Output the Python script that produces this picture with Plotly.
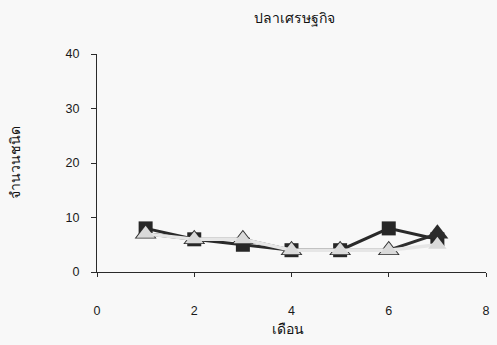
import plotly.graph_objects as go

# Monthly number of economic fish species
months = [1, 2, 3, 4, 5, 6, 7]
species_square = [8, 6, 5, 4, 4, 8, 6]
species_dark_tri = [7, 6, 6, 4, 4, 4, 7]
species_light_tri = [7, 6, 6, 4, 4, 4, 5]

x_ticks = [0, 2, 4, 6, 8]
y_ticks = [0, 10, 20, 30, 40]

chart_title = "ปลาเศรษฐกิจ"
x_title = "เดือน"
y_title = "จำนวนชนิด"

W, H = 497, 345
M_L, M_R, M_T, M_B = 97, 7, 54, 73
PLOT_W = W - M_L - M_R
PLOT_H = H - M_T - M_B


def px_x(px):
    return (px - M_L) / PLOT_W


def px_y(py):
    return (H - M_B - py) / PLOT_H


FONT = "Liberation Sans, Arial, sans-serif"

fig = go.Figure()

fig.add_trace(go.Scatter(
    x=months, y=species_square, mode="lines+markers",
    line=dict(color="#2a2a2a", width=3),
    marker=dict(symbol="square", size=14, color="#272727"),
    showlegend=False,
))
fig.add_trace(go.Scatter(
    x=months, y=species_dark_tri, mode="lines+markers",
    line=dict(color="#2e2e2e", width=3),
    marker=dict(symbol="triangle-up", size=19, color="#2c2c2c"),
    showlegend=False,
))
fig.add_trace(go.Scatter(
    x=months, y=species_light_tri, mode="lines+markers",
    line=dict(color="#e6e6e6", width=3.4),
    marker=dict(symbol="triangle-up", size=16, color="#dadada"),
    showlegend=False,
))

fig.update_layout(
    width=W, height=H,
    margin=dict(l=M_L, r=M_R, t=M_T, b=M_B, pad=0),
    paper_bgcolor="#f8f8f8",
    plot_bgcolor="#f8f8f8",
    font=dict(family=FONT, size=12, color="#1a1a1a"),
    showlegend=False,
    xaxis=dict(
        range=[0, 8], tickvals=x_ticks, showgrid=False, zeroline=False,
        showline=True, linecolor="#2a2a2a", linewidth=1,
        ticks="outside", ticklen=4, tickcolor="#2a2a2a",
        ticklabelstandoff=23,
        tickfont=dict(family=FONT, size=12.5, color="#1a1a1a"),
    ),
    yaxis=dict(
        range=[0, 40], tickvals=y_ticks, showgrid=False, zeroline=False,
        showline=True, linecolor="#2a2a2a", linewidth=1,
        ticks="outside", ticklen=5, tickcolor="#2a2a2a",
        ticklabelstandoff=9,
        tickfont=dict(family=FONT, size=12.5, color="#1a1a1a"),
    ),
    annotations=[
        dict(text=chart_title, xref="paper", yref="paper",
             x=px_x(297), y=px_y(18), showarrow=False,
             font=dict(family=FONT, size=14, color="#111111"),
             xanchor="center", yanchor="middle"),
        dict(text=x_title, xref="paper", yref="paper",
             x=px_x(290), y=px_y(329), showarrow=False,
             font=dict(family=FONT, size=14, color="#111111"),
             xanchor="center", yanchor="middle"),
        dict(text=y_title, xref="paper", yref="paper",
             x=px_x(14), y=px_y(162), showarrow=False, textangle=-90,
             font=dict(family=FONT, size=14, color="#111111"),
             xanchor="center", yanchor="middle"),
    ],
)

fig.write_html("out.html")
